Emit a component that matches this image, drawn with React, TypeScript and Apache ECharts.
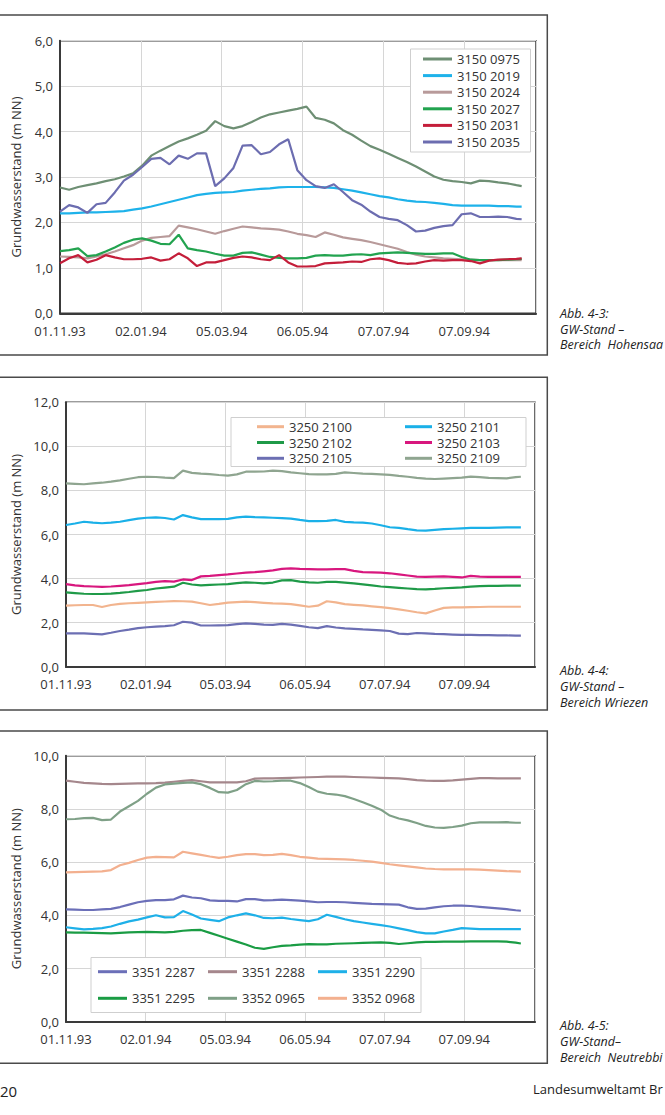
import React, { useEffect, useRef } from "react";
import * as echarts from "echarts";

const FONT = "'Open Sans', 'Noto Sans', 'DejaVu Sans', sans-serif";

// measurement days, counted from 01.11.93
const DAYS = [0, 7, 14, 21, 28, 35, 42, 49, 56, 63, 70, 77, 84, 91, 98, 105, 112, 119, 126, 133, 140, 147, 154, 161, 168, 175, 182, 189, 196, 203, 210, 217, 224, 231, 238, 245, 252, 259, 266, 273, 280, 287, 294, 301, 308, 315, 322, 329, 336, 343, 350, 354];

// x tick labels (every 62 days)
const DATE_LABELS = ["01.11.93", "02.01.94", "05.03.94", "06.05.94", "07.07.94", "07.09.94"];

// ---- Abb. 4-3 Hohensaaten ----
const S_3150_0975 = [
  2.77, 2.72, 2.78, 2.82, 2.86, 2.91, 2.95, 3.01, 3.08, 3.25,
  3.47, 3.58, 3.68, 3.78, 3.85, 3.93, 4.02, 4.23, 4.12, 4.07,
  4.12, 4.21, 4.31, 4.38, 4.42, 4.46, 4.50, 4.55, 4.30, 4.26,
  4.18, 4.03, 3.93, 3.80, 3.68, 3.60, 3.51, 3.42, 3.33, 3.23,
  3.12, 3.01, 2.94, 2.91, 2.89, 2.86, 2.92, 2.91, 2.88, 2.86,
  2.82, 2.80];
const S_3150_2019 = [
  2.20, 2.20, 2.21, 2.22, 2.22, 2.23, 2.24, 2.25, 2.28, 2.31,
  2.35, 2.40, 2.45, 2.50, 2.55, 2.60, 2.63, 2.65, 2.66, 2.67,
  2.70, 2.72, 2.74, 2.75, 2.77, 2.78, 2.78, 2.78, 2.78, 2.77,
  2.76, 2.73, 2.70, 2.66, 2.62, 2.58, 2.55, 2.51, 2.48, 2.46,
  2.45, 2.43, 2.41, 2.38, 2.37, 2.37, 2.37, 2.37, 2.36, 2.36,
  2.35, 2.35];
const S_3150_2024 = [
  1.25, 1.24, 1.23, 1.21, 1.25, 1.30, 1.36, 1.43, 1.50, 1.60,
  1.66, 1.68, 1.70, 1.93, 1.89, 1.85, 1.80, 1.75, 1.81, 1.86,
  1.91, 1.89, 1.87, 1.86, 1.84, 1.80, 1.75, 1.72, 1.68, 1.78,
  1.73, 1.67, 1.64, 1.61, 1.57, 1.52, 1.47, 1.42, 1.35, 1.29,
  1.25, 1.23, 1.21, 1.20, 1.19, 1.18, 1.17, 1.17, 1.17, 1.17,
  1.17, 1.17];
const S_3150_2027 = [
  1.37, 1.39, 1.43, 1.26, 1.28, 1.36, 1.45, 1.55, 1.62, 1.65,
  1.60, 1.53, 1.52, 1.73, 1.43, 1.39, 1.36, 1.31, 1.27, 1.27,
  1.33, 1.34, 1.29, 1.24, 1.22, 1.21, 1.21, 1.22, 1.27, 1.28,
  1.27, 1.27, 1.29, 1.30, 1.28, 1.32, 1.33, 1.34, 1.33, 1.32,
  1.31, 1.31, 1.32, 1.32, 1.24, 1.18, 1.17, 1.17, 1.17, 1.18,
  1.19, 1.20];
const S_3150_2031 = [
  1.10, 1.21, 1.28, 1.12, 1.18, 1.28, 1.23, 1.19, 1.19, 1.20,
  1.23, 1.16, 1.19, 1.32, 1.21, 1.04, 1.12, 1.12, 1.17, 1.22,
  1.25, 1.23, 1.19, 1.17, 1.28, 1.12, 1.03, 1.03, 1.04, 1.10,
  1.11, 1.12, 1.14, 1.13, 1.19, 1.21, 1.17, 1.11, 1.09, 1.10,
  1.14, 1.17, 1.16, 1.17, 1.17, 1.15, 1.10, 1.16, 1.18, 1.19,
  1.20, 1.21];
const S_3150_2035 = [
  2.24, 2.38, 2.33, 2.21, 2.40, 2.43, 2.66, 2.92, 3.05, 3.22,
  3.40, 3.42, 3.28, 3.47, 3.40, 3.52, 3.52, 2.80, 2.97, 3.20,
  3.69, 3.70, 3.50, 3.55, 3.72, 3.83, 3.15, 2.93, 2.80, 2.76,
  2.84, 2.67, 2.49, 2.39, 2.24, 2.12, 2.08, 2.05, 1.94, 1.80,
  1.82, 1.88, 1.92, 1.94, 2.18, 2.20, 2.12, 2.12, 2.13, 2.12,
  2.08, 2.07];

// ---- Abb. 4-4 Wriezen ----
const S_3250_2100 = [
  2.77, 2.79, 2.80, 2.80, 2.71, 2.80, 2.85, 2.88, 2.90, 2.92,
  2.94, 2.96, 2.98, 2.97, 2.95, 2.88, 2.80, 2.85, 2.91, 2.93,
  2.95, 2.93, 2.90, 2.87, 2.86, 2.84, 2.78, 2.72, 2.77, 2.97,
  2.92, 2.84, 2.81, 2.78, 2.74, 2.70, 2.66, 2.60, 2.54, 2.47,
  2.42, 2.55, 2.67, 2.69, 2.69, 2.70, 2.71, 2.72, 2.72, 2.72,
  2.72, 2.72];
const S_3250_2101 = [
  6.43, 6.50, 6.58, 6.54, 6.51, 6.54, 6.58, 6.65, 6.72, 6.76,
  6.78, 6.75, 6.68, 6.88, 6.78, 6.70, 6.70, 6.70, 6.71, 6.78,
  6.81, 6.79, 6.78, 6.76, 6.74, 6.72, 6.66, 6.61, 6.61, 6.62,
  6.66, 6.57, 6.55, 6.54, 6.50, 6.42, 6.33, 6.30, 6.24, 6.19,
  6.18, 6.21, 6.24, 6.26, 6.28, 6.30, 6.30, 6.30, 6.31, 6.32,
  6.32, 6.32];
const S_3250_2102 = [
  3.37, 3.34, 3.31, 3.30, 3.30, 3.32, 3.35, 3.39, 3.44, 3.48,
  3.55, 3.59, 3.63, 3.81, 3.73, 3.69, 3.71, 3.73, 3.75, 3.79,
  3.83, 3.81, 3.78, 3.82, 3.92, 3.93, 3.86, 3.83, 3.81, 3.85,
  3.85, 3.82, 3.78, 3.74, 3.69, 3.64, 3.61, 3.58, 3.55, 3.52,
  3.51, 3.53, 3.56, 3.58, 3.60, 3.63, 3.66, 3.67, 3.67, 3.68,
  3.68, 3.68];
const S_3250_2103 = [
  3.75, 3.69, 3.66, 3.64, 3.62, 3.64, 3.67, 3.70, 3.75, 3.79,
  3.85, 3.88, 3.86, 3.96, 3.93, 4.10, 4.12, 4.16, 4.19, 4.23,
  4.27, 4.29, 4.33, 4.37, 4.44, 4.46, 4.44, 4.43, 4.42, 4.42,
  4.43, 4.43, 4.35, 4.29, 4.28, 4.27, 4.24, 4.19, 4.14, 4.09,
  4.08, 4.09, 4.10, 4.08, 4.05, 4.12, 4.09, 4.08, 4.08, 4.08,
  4.08, 4.08];
const S_3250_2105 = [
  1.51, 1.51, 1.51, 1.49, 1.47, 1.54, 1.62, 1.68, 1.75, 1.79,
  1.82, 1.84, 1.88, 2.04, 2.00, 1.87, 1.87, 1.88, 1.89, 1.93,
  1.97, 1.94, 1.91, 1.90, 1.94, 1.91, 1.85, 1.79, 1.75, 1.84,
  1.78, 1.74, 1.72, 1.69, 1.67, 1.65, 1.62, 1.50, 1.48, 1.53,
  1.51, 1.49, 1.48, 1.46, 1.44, 1.44, 1.43, 1.43, 1.42, 1.42,
  1.41, 1.41];
const S_3250_2109 = [
  8.32, 8.30, 8.28, 8.32, 8.35, 8.40, 8.46, 8.53, 8.60, 8.62,
  8.61, 8.58, 8.56, 8.90, 8.80, 8.76, 8.74, 8.70, 8.67, 8.73,
  8.85, 8.85, 8.86, 8.90, 8.88, 8.82, 8.78, 8.74, 8.73, 8.73,
  8.75, 8.82, 8.79, 8.76, 8.75, 8.73, 8.71, 8.66, 8.62, 8.57,
  8.54, 8.52, 8.54, 8.56, 8.58, 8.63, 8.60, 8.57, 8.56, 8.55,
  8.60, 8.62];

// ---- Abb. 4-5 Neutrebbin ----
const S_3351_2287 = [
  4.22, 4.21, 4.20, 4.20, 4.22, 4.24, 4.31, 4.40, 4.49, 4.54,
  4.57, 4.57, 4.60, 4.74, 4.67, 4.64, 4.56, 4.54, 4.54, 4.52,
  4.61, 4.61, 4.56, 4.57, 4.59, 4.57, 4.55, 4.52, 4.49, 4.50,
  4.50, 4.49, 4.47, 4.45, 4.43, 4.42, 4.41, 4.40, 4.30, 4.24,
  4.25, 4.30, 4.34, 4.36, 4.36, 4.35, 4.32, 4.29, 4.26, 4.23,
  4.19, 4.17];
const S_3351_2288 = [
  9.06, 9.02, 8.98, 8.96, 8.94, 8.93, 8.94, 8.95, 8.96, 8.96,
  8.97, 8.99, 9.02, 9.05, 9.08, 9.04, 9.00, 9.00, 9.00, 9.00,
  9.04, 9.14, 9.15, 9.15, 9.16, 9.17, 9.18, 9.19, 9.20, 9.21,
  9.21, 9.21, 9.20, 9.19, 9.18, 9.17, 9.16, 9.15, 9.12, 9.08,
  9.06, 9.05, 9.05, 9.07, 9.10, 9.13, 9.16, 9.16, 9.15, 9.15,
  9.15, 9.15];
const S_3351_2290 = [
  3.55, 3.51, 3.47, 3.49, 3.52, 3.58, 3.68, 3.77, 3.84, 3.92,
  4.00, 3.92, 3.93, 4.16, 4.03, 3.88, 3.83, 3.78, 3.92, 4.00,
  4.07, 4.00, 3.90, 3.89, 3.91, 3.86, 3.82, 3.78, 3.85, 4.02,
  3.94, 3.85, 3.78, 3.73, 3.68, 3.63, 3.58, 3.51, 3.44, 3.37,
  3.32, 3.32, 3.39, 3.45, 3.52, 3.50, 3.48, 3.48, 3.48, 3.48,
  3.48, 3.48];
const S_3351_2295 = [
  3.36, 3.35, 3.35, 3.34, 3.33, 3.32, 3.34, 3.36, 3.37, 3.38,
  3.37, 3.36, 3.38, 3.42, 3.44, 3.45, 3.34, 3.23, 3.12, 3.01,
  2.90, 2.78, 2.74, 2.80, 2.85, 2.87, 2.90, 2.92, 2.91, 2.91,
  2.93, 2.94, 2.95, 2.96, 2.97, 2.98, 2.96, 2.92, 2.95, 2.98,
  3.00, 3.00, 3.01, 3.01, 3.01, 3.02, 3.02, 3.02, 3.02, 3.01,
  2.97, 2.94];
const S_3352_0965 = [
  7.61, 7.62, 7.65, 7.66, 7.58, 7.60, 7.90, 8.10, 8.30, 8.57,
  8.80, 8.92, 8.95, 8.98, 9.00, 8.93, 8.79, 8.63, 8.61, 8.71,
  8.93, 9.05, 9.03, 9.04, 9.06, 9.06, 8.97, 8.82, 8.65, 8.57,
  8.54, 8.48, 8.37, 8.25, 8.12, 7.97, 7.75, 7.64, 7.57, 7.47,
  7.36, 7.30, 7.29, 7.32, 7.37, 7.46, 7.49, 7.49, 7.49, 7.50,
  7.48, 7.48];
const S_3352_0968 = [
  5.61, 5.62, 5.63, 5.64, 5.65, 5.70, 5.88, 5.97, 6.08, 6.17,
  6.20, 6.19, 6.18, 6.39, 6.33, 6.27, 6.21, 6.16, 6.20, 6.26,
  6.30, 6.30, 6.26, 6.27, 6.31, 6.26, 6.20, 6.17, 6.13, 6.12,
  6.11, 6.10, 6.08, 6.05, 6.02, 5.97, 5.92, 5.88, 5.84, 5.80,
  5.76, 5.74, 5.73, 5.73, 5.73, 5.73, 5.72, 5.70, 5.68, 5.66,
  5.65, 5.64];

const CHART1 = [
  { name: "3150 0975", values: S_3150_0975, color: "#6e8f74" },
  { name: "3150 2019", values: S_3150_2019, color: "#1eb2ea" },
  { name: "3150 2024", values: S_3150_2024, color: "#b89a9a" },
  { name: "3150 2027", values: S_3150_2027, color: "#22a34f" },
  { name: "3150 2031", values: S_3150_2031, color: "#c41e3a" },
  { name: "3150 2035", values: S_3150_2035, color: "#6c6db0" },
];
const CHART2 = [
  { name: "3250 2100", values: S_3250_2100, color: "#f2b48e" },
  { name: "3250 2101", values: S_3250_2101, color: "#1ab0e8" },
  { name: "3250 2102", values: S_3250_2102, color: "#1f9a48" },
  { name: "3250 2103", values: S_3250_2103, color: "#d8177e" },
  { name: "3250 2105", values: S_3250_2105, color: "#6c6fb3" },
  { name: "3250 2109", values: S_3250_2109, color: "#8fa590" },
];
const CHART3 = [
  { name: "3351 2287", values: S_3351_2287, color: "#6b6fb8" },
  { name: "3351 2288", values: S_3351_2288, color: "#a5878c" },
  { name: "3351 2290", values: S_3351_2290, color: "#1eb0e8" },
  { name: "3351 2295", values: S_3351_2295, color: "#1a9c44" },
  { name: "3352 0965", values: S_3352_0965, color: "#7fa087" },
  { name: "3352 0968", values: S_3352_0968, color: "#f3b08f" },
];

const Y_MAX = [6, 12, 10];
const Y_STEP = [1, 2, 2];
const GRIDS = [
  { left: 60, top: 40.7, width: 476, height: 272.6 },
  { left: 66, top: 402.3, width: 469, height: 264.4 },
  { left: 66, top: 755.7, width: 469, height: 266 },
];

function buildOption() {
  const axisColor = "#3a3a3a";
  const grid = GRIDS.map((g) => ({ ...g, show: true, borderColor: axisColor, borderWidth: 1.5, backgroundColor: "transparent" }));
  const xAxis = GRIDS.map((_, i) => ({
    type: "value",
    gridIndex: i,
    min: 0,
    max: 365,
    interval: 62,
    axisLine: { show: true, onZero: false, lineStyle: { color: axisColor, width: 2 } },
    axisTick: { show: false },
    splitLine: { show: true, lineStyle: { color: "#d6d6d6", width: 1 } },
    axisLabel: {
      color: "#333",
      fontSize: 13,
      fontFamily: FONT,
      margin: 11,
      formatter: (v: number) => (v % 62 === 0 && v / 62 < DATE_LABELS.length ? DATE_LABELS[v / 62] : ""),
    },
  }));
  const yAxis = GRIDS.map((_, i) => ({
    type: "value",
    gridIndex: i,
    min: 0,
    max: Y_MAX[i],
    interval: Y_STEP[i],
    name: "Grundwasserstand (m NN)",
    nameLocation: "middle",
    nameRotate: 90,
    nameGap: i === 0 ? 38 : 44,
    nameTextStyle: { color: "#333", fontSize: 13, fontFamily: FONT },
    axisLine: { show: true, lineStyle: { color: axisColor, width: 2 } },
    axisTick: { show: false },
    splitLine: { show: true, lineStyle: { color: "#d6d6d6", width: 1 } },
    axisLabel: {
      color: "#333",
      fontSize: 13,
      fontFamily: FONT,
      margin: 7,
      formatter: (v: number) => v.toFixed(1).replace(".", ","),
    },
  }));
  const series: any[] = [];
  [CHART1, CHART2, CHART3].forEach((list, gi) => {
    list.forEach((s) => {
      series.push({
        type: "line",
        name: s.name,
        xAxisIndex: gi,
        yAxisIndex: gi,
        data: DAYS.map((d, k) => [d, s.values[k]]),
        showSymbol: false,
        symbol: "none",
        lineStyle: { color: s.color, width: 2.2 },
        itemStyle: { color: s.color },
        z: 2,
      });
    });
  });
  const legendBase = {
    orient: "vertical",
    padding: 0,
    icon: "rect",
    itemHeight: 3,
    selectedMode: false,
    z: 10,
    textStyle: { color: "#333", fontSize: 13, fontFamily: FONT, lineHeight: 13 },
  };
  const legend = [
    { ...legendBase, left: 423, top: 52.5, itemWidth: 29, itemGap: 3.6, data: CHART1.map((s) => s.name) },
    { ...legendBase, left: 257, top: 420.2, itemWidth: 27, itemGap: 2.8, data: [CHART2[0].name, CHART2[2].name, CHART2[4].name] },
    { ...legendBase, left: 405, top: 420.2, itemWidth: 27, itemGap: 2.8, data: [CHART2[1].name, CHART2[3].name, CHART2[5].name] },
    { ...legendBase, left: 98, top: 965.2, itemWidth: 29, itemGap: 13.6, data: [CHART3[0].name, CHART3[3].name] },
    { ...legendBase, left: 208, top: 965.2, itemWidth: 29, itemGap: 13.6, data: [CHART3[1].name, CHART3[4].name] },
    { ...legendBase, left: 318, top: 965.2, itemWidth: 29, itemGap: 13.6, data: [CHART3[2].name, CHART3[5].name] },
  ];

  const frame = (y: number, h: number) => ({
    type: "rect",
    silent: true,
    z: 1,
    shape: { x: -5, y, width: 552.3, height: h },
    style: { fill: "none", stroke: "#4a4a4a", lineWidth: 1.5 },
  });
  const lbox = (x: number, y: number, w: number, h: number) => ({
    type: "rect",
    silent: true,
    z: 5,
    shape: { x, y, width: w, height: h },
    style: { fill: "#ffffff", stroke: "#cfcfcf", lineWidth: 1 },
  });
  const cap = (text: string, y: number) => ({
    type: "text",
    silent: true,
    x: 560,
    y,
    style: { text, fill: "#222", fontSize: 12.5, lineHeight: 14, fontStyle: "italic", fontFamily: FONT, verticalAlign: "middle", align: "left" },
  });
  const graphic = [
    frame(15, 340),
    frame(377.3, 332.7),
    frame(731, 332.3),
    lbox(410.5, 49, 120, 103),
    lbox(231, 417.5, 295, 49),
    lbox(91, 957.5, 330, 55),
    cap("Abb. 4-3:", 313),
    cap("GW-Stand –", 329),
    cap("Bereich  Hohensaa", 344.5),
    cap("Abb. 4-4:", 670),
    cap("GW-Stand –", 686),
    cap("Bereich Wriezen", 702),
    cap("Abb. 4-5:", 1025),
    cap("GW-Stand–", 1041),
    cap("Bereich  Neutrebbi", 1057),
    {
      type: "text",
      silent: true,
      x: 0,
      y: 1091,
      style: { text: "20", fill: "#222", fontSize: 15, fontFamily: FONT, verticalAlign: "middle", align: "left" },
    },
    {
      type: "text",
      silent: true,
      x: 533,
      y: 1089,
      style: { text: "Landesumweltamt Br", fill: "#222", fontSize: 13, fontFamily: FONT, verticalAlign: "middle", align: "left" },
    },
  ];

  return {
    animation: false,
    backgroundColor: "#ffffff",
    grid,
    xAxis,
    yAxis,
    legend,
    series,
    graphic,
  };
}

export default function App() {
  const ref = useRef<HTMLDivElement | null>(null);
  useEffect(() => {
    if (!ref.current) return;
    const chart = echarts.init(ref.current, null, { renderer: "svg" });
    chart.setOption(buildOption() as any);
    return () => chart.dispose();
  }, []);
  return (
    <div
      ref={ref}
      style={{ position: "absolute", left: 0, top: 0, width: 665, height: 1115, background: "#fff", overflow: "hidden" }}
    />
  );
}
